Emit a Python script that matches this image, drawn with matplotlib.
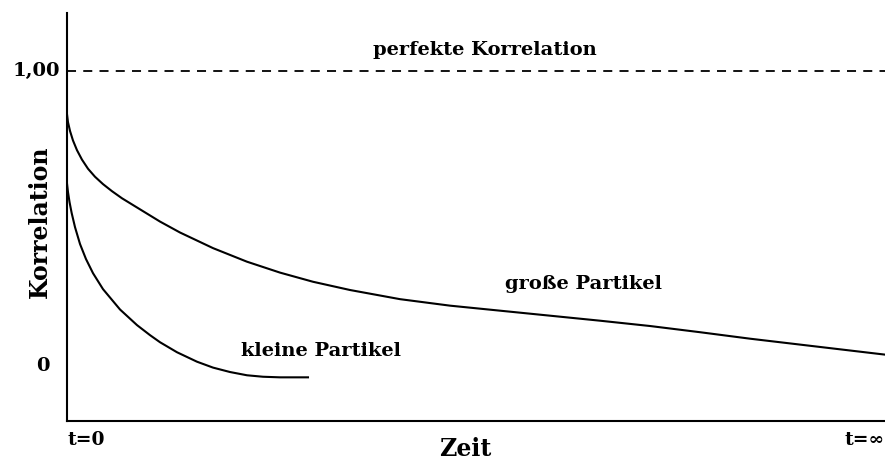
import numpy as np
import matplotlib.pyplot as plt

# Zeit in % der Achse (t=0 ... t=unendlich), Korrelation 0 ... 1
gross_t = [0, 0.12, 0.37, 0.73, 1.22, 1.83, 2.57, 3.42, 4.40, 5.50, 6.72, 8.19,
           9.78, 11.37, 13.81, 17.85, 22.0, 26.04, 30.07, 34.6, 40.71, 46.82,
           52.93, 59.05, 65.16, 71.27, 77.38, 83.5, 89.61, 95.72, 100]
gross_k = [0.854, 0.827, 0.797, 0.765, 0.732, 0.700, 0.669, 0.642, 0.617, 0.593,
           0.569, 0.544, 0.517, 0.490, 0.453, 0.400, 0.354, 0.317, 0.286, 0.258,
           0.227, 0.205, 0.188, 0.171, 0.154, 0.136, 0.115, 0.093, 0.073, 0.053,
           0.039]

klein_t = [0, 0.12, 0.31, 0.57, 0.98, 1.59, 2.32, 3.18, 4.40, 6.48, 8.56, 10.15,
           11.37, 13.45, 15.89, 17.85, 19.93, 22.0, 23.96, 26.04, 29.46]
klein_k = [0.619, 0.590, 0.556, 0.519, 0.471, 0.414, 0.363, 0.315, 0.261, 0.192,
           0.139, 0.105, 0.081, 0.047, 0.015, -0.005, -0.020, -0.031, -0.036,
           -0.038, -0.038]

perfekt = 1.0

fnt = dict(family='DejaVu Serif', fontweight='bold', color='black')

fig = plt.figure(figsize=(8.85, 4.61), dpi=100)
ax = fig.add_axes([67 / 885, 40 / 461, 1 - 67 / 885, (421 - 13) / 461])

ax.plot(gross_t, gross_k, color='black', lw=1.5, solid_joinstyle='round')
ax.plot(klein_t, klein_k, color='black', lw=1.5, solid_joinstyle='round')
ax.axhline(perfekt, color='black', lw=1.3, linestyle=(0, (5, 4)))

ax.set_xlim(0, 100)
ax.set_ylim(-0.186, 1.197)
ax.set_xticks([])
ax.set_yticks([])
for s in ['top', 'right']:
    ax.spines[s].set_visible(False)
for s in ['left', 'bottom']:
    ax.spines[s].set_linewidth(1.5)

ax.text(51.1, 1.071, 'perfekte Korrelation', ha='center', va='center', fontsize=14, **fnt)
ax.text(63.1, 0.278, 'große Partikel', ha='center', va='center', fontsize=14, **fnt)
ax.text(31.1, 0.051, 'kleine Partikel', ha='center', va='center', fontsize=14, **fnt)

ax.text(-0.9, 1.0, '1,00', ha='right', va='center', fontsize=14, clip_on=False, **fnt)
ax.text(-2.9, 0.0, '0', ha='center', va='center', fontsize=14, clip_on=False, **fnt)
ax.text(0, -0.25, 't=0', ha='left', va='center', fontsize=13.5, clip_on=False, **fnt)
ax.text(100, -0.25, 't=∞', ha='right', va='center', fontsize=13.5, clip_on=False, **fnt)

fig.text(465 / 885, 1 - 449 / 461, 'Zeit', ha='center', va='center', fontsize=17, **fnt)
fig.text(40 / 885, 1 - 222 / 461, 'Korrelation', ha='center', va='center',
         rotation=90, fontsize=17, **fnt)

fig.savefig('out.png', dpi=100)
